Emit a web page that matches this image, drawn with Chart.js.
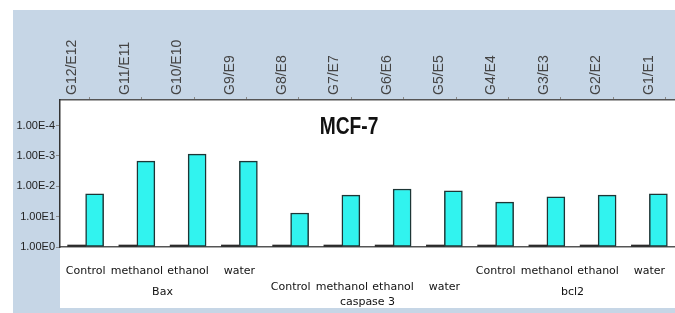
<!DOCTYPE html>
<html>
<head>
<meta charset="utf-8">
<script src="https://cdn.jsdelivr.net/npm/chart.js@4.4.1/dist/chart.umd.min.js"></script>
<style>
  html, body { margin: 0; padding: 0; background: #fff; overflow: hidden; }
  #wrap { width: 675px; height: 313px; }
</style>
</head>
<body>
<div id="wrap"><canvas id="chart" width="675" height="313"></canvas></div>
<script>
const wells = ['G12/E12', 'G11/E11', 'G10/E10', 'G9/E9', 'G8/E8', 'G7/E7', 'G6/E6', 'G5/E5', 'G4/E4', 'G3/E3', 'G2/E2', 'G1/E1'];
const treatments = ['Control', 'methanol', 'ethanol', 'water'];
const genes = ['Bax', 'caspase 3', 'bcl2'];
// bar heights in axis steps (0 = "1.00E0" line, 4 = "1.00E-4" line)
const expression = [1.75, 2.83, 3.06, 2.83, 1.12, 1.71, 1.91, 1.85, 1.48, 1.65, 1.71, 1.75];
const calibrator = [0, 0, 0, 0, 0, 0, 0, 0, 0, 0, 0, 0];
const yTickLabels = ['1.00E0', '1.00E1', '1.00E-2', '1.00E-3', '1.00E-4'];
const chartTitle = 'MCF-7';

const categories = genes.flatMap(() => treatments);
const sans = "'Liberation Sans', Arial, sans-serif";
const comic = "'DejaVu Sans', sans-serif";

const noPad = (s) => { s.paddingLeft = 0; s.paddingRight = 0; s.paddingTop = 0; s.paddingBottom = 0; };

const backdrop = {
  id: 'backdrop',
  beforeDraw(chart) {
    const { ctx, chartArea: a } = chart;
    ctx.save();
    ctx.fillStyle = '#c6d6e6';
    ctx.fillRect(13, 10, chart.width - 13, chart.height - 10);
    ctx.fillStyle = '#ffffff';
    ctx.fillRect(a.left, a.top, chart.width - a.left, chart.height - 5 - a.top);
    ctx.restore();
  },
  afterDatasetsDraw(chart) {
    const { ctx, chartArea: a } = chart;
    ctx.save();
    ctx.translate(a.left + (a.right - a.left) * 0.47, a.top + 27);
    ctx.scale(0.8, 1);
    ctx.font = 'bold 24px ' + sans;
    ctx.fillStyle = '#111';
    ctx.textAlign = 'center';
    ctx.textBaseline = 'middle';
    ctx.fillText(chartTitle, 0, 0);
    ctx.restore();
  }
};

new Chart(document.getElementById('chart'), {
  type: 'bar',
  data: {
    labels: categories,
    datasets: [{
      data: calibrator,
      backgroundColor: '#2b2b2b',
      borderWidth: 0,
      minBarLength: 2,
      barThickness: 18
    }, {
      data: expression,
      backgroundColor: '#31f3ef',
      borderColor: '#1d3636',
      borderWidth: 1.5,
      borderSkipped: false,
      barThickness: 18
    }]
  },
  plugins: [backdrop],
  options: {
    responsive: false,
    animation: false,
    layout: { padding: 0 },
    plugins: {
      legend: { display: false },
      tooltip: { enabled: false }
    },
    scales: {
      x: {
        position: 'bottom',
        grid: { display: false, drawTicks: false },
        border: { display: true, color: '#555', width: 1.5, dash: [1.5, 2.5] },
        ticks: {
          autoSkip: false, maxRotation: 0, minRotation: 0, padding: 16,
          color: '#111', font: { family: comic, size: 11, lineHeight: 1.45 },
          callback: (v, i) => Math.floor(i / 4) === 1 ? ['', categories[i]] : categories[i]
        },
        afterFit: (s) => { s.height = 66; noPad(s); }
      },
      xg: {
        type: 'category',
        position: { y: -1.318 },
        labels: genes,
        grid: { display: false, drawTicks: false },
        border: { display: false },
        ticks: {
          autoSkip: false, maxRotation: 0, minRotation: 0, padding: 0,
          color: '#111', font: { family: comic, size: 11, lineHeight: 0.91 },
          callback: (v, i) => i === 1 ? ['', genes[i]] : genes[i]
        },
        afterFit: noPad
      },
      wells: {
        type: 'linear',
        position: 'top',
        offset: false,
        min: -0.56,
        max: 11.18,
        grid: { display: true, offset: false, drawOnChartArea: false, drawTicks: true, tickLength: 3, color: '#888' },
        border: { display: true, color: '#555', width: 1.5 },
        afterBuildTicks: (s) => { s.ticks = wells.map((w, i) => ({ value: i })); },
        ticks: {
          autoSkip: false, maxRotation: 90, minRotation: 90, padding: 2,
          color: '#444', font: { family: sans, size: 14 },
          callback: (v) => wells[v]
        },
        afterFit: (s) => { s.height = 100; noPad(s); }
      },
      y: {
        min: 0,
        max: 4.84,
        grid: { display: true, drawOnChartArea: false, drawTicks: true, tickLength: 4, color: '#888' },
        border: { display: true, color: '#333', width: 1.5 },
        afterBuildTicks: (s) => { s.ticks = yTickLabels.map((t, i) => ({ value: i })); },
        ticks: {
          padding: 1,
          color: '#222', font: { family: sans, size: 11 },
          callback: (v) => yTickLabels[v]
        },
        afterFit: (s) => { s.width = 60; noPad(s); }
      }
    }
  }
});
</script>
</body>
</html>
